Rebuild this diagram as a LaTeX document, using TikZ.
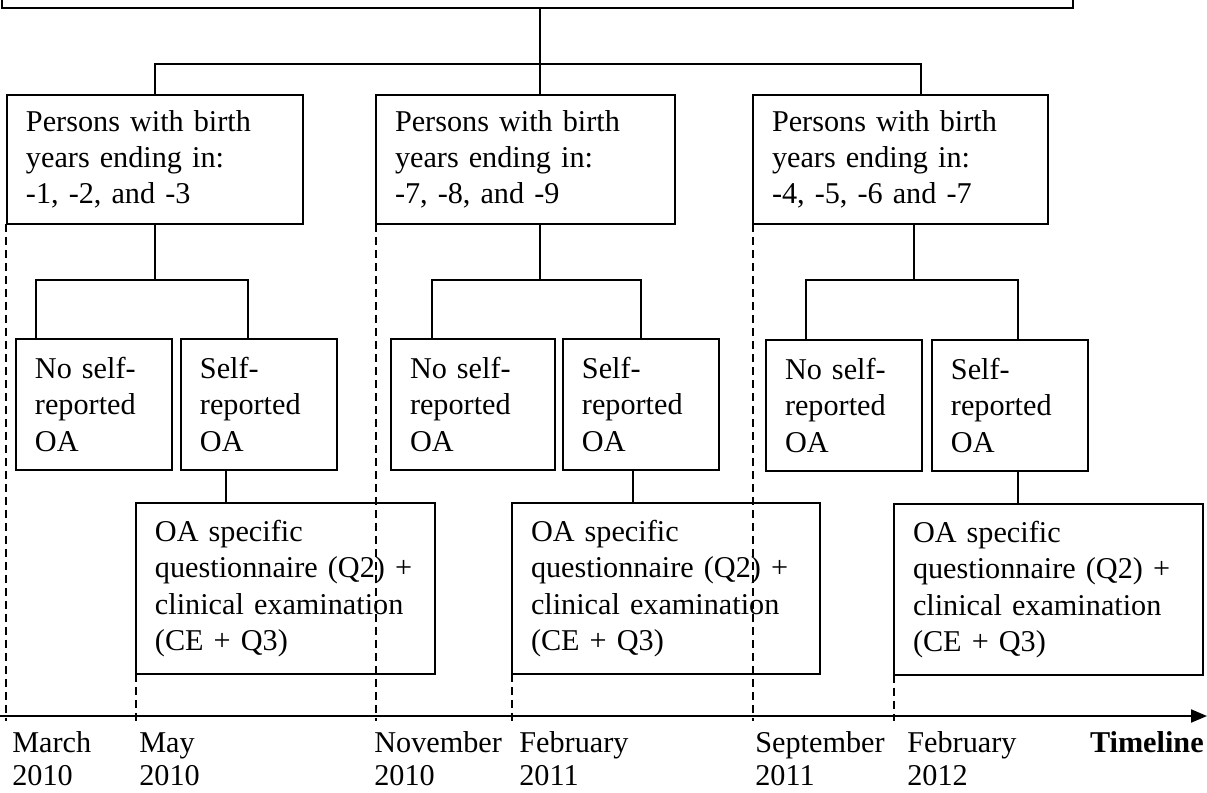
\documentclass[tikz,border=0pt]{standalone}
\usepackage{fontspec}
\setmainfont{Liberation Serif}
\usepackage{tikz}
\usetikzlibrary{arrows.meta, positioning}
\newcommand{\diagfont}{\fontsize{17.2}{20.6}\selectfont}
\newcommand{\datefont}{\fontsize{17.2}{19}\selectfont}

\begin{document}
\begin{tikzpicture}[
    x=0.02cm, y=-0.02cm, every node/.style={font=\diagfont},
    stage/.style={rectangle, draw, line width=1.2pt, inner xsep=0.38cm, inner ysep=0pt,
        outer sep=0pt, align=left, anchor=north west},
    cohort/.style={stage, minimum height=2.58cm},
    answer/.style={stage, minimum height=2.62cm, text width=2.36cm},
    exam/.style={stage, minimum height=3.42cm},
    link/.style={line width=1.2pt},
    guide/.style={line width=0.8pt, dash pattern=on 0.16cm off 0.1cm},
    date/.style={anchor=north west, inner sep=0pt, align=left, font=\datefont}]

    \clip (0,0) rectangle (1207,792);

    % Define boxes
    \node[stage, anchor=south west, minimum width=21.42cm, minimum height=2cm, inner sep=0pt] (top) at (2,8) {};

    \node[cohort, text width=5.16cm] (b1) at (7,95) {Persons with birth\\years ending in:\\-1, -2, and -3};
    \node[cohort, text width=5.22cm] (b2) at (376,95) {Persons with birth\\years ending in:\\-7, -8, and -9};
    \node[cohort, text width=5.14cm] (b3) at (753,95) {Persons with birth\\years ending in:\\-4, -5, -6 and -7};

    \node[answer] (n1) at (16,339) {No self-\\reported\\OA};
    \node[answer] (s1) [right=0.18cm of n1] {Self-\\reported\\OA};
    \node[answer, text width=2.52cm] (n2) at (391,339) {No self-\\reported\\OA};
    \node[answer] (s2) [right=0.16cm of n2] {Self-\\reported\\OA};
    \node[answer] (n3) at (766,340) {No self-\\reported\\OA};
    \node[answer] (s3) [right=0.2cm of n3] {Self-\\reported\\OA};

    \node[exam, text width=5.22cm] (q1) at (136,503) {OA specific\\questionnaire~(Q2)~+\\clinical examination\\(CE + Q3)};
    \node[exam, text width=5.40cm] (q2) at (512,503) {OA specific\\questionnaire~(Q2)~+\\clinical examination\\(CE + Q3)};
    \node[exam, text width=5.42cm] (q3) at (894,504) {OA specific\\questionnaire~(Q2)~+\\clinical examination\\(CE + Q3)};

    % Draw splits
    \coordinate (rail) at (540,64);
    \coordinate (fork) at (0,280);
    \draw[link] (top.south -| rail) -- (rail |- b2.north);
    \draw[link] (b1.north) |- (rail) -| ([xshift=0.41cm]b3.north);

    \draw[link] (b1.south) -- (b1.south |- fork);
    \draw[link] ([xshift=0.4cm]n1.north west) |- (b1.south |- fork) -| ([xshift=1.34cm]s1.north west);
    \draw[link] ([xshift=0.29cm]b2.south) -- ([xshift=0.29cm]b2.south |- fork);
    \draw[link] ([xshift=0.82cm]n2.north west) |- (b2.south |- fork) -| (s2.north);
    \draw[link] ([xshift=0.27cm]b3.south) -- ([xshift=0.27cm]b3.south |- fork);
    \draw[link] ([xshift=0.8cm]n3.north west) |- (b3.south |- fork) -| ([xshift=1.72cm]s3.north west);

    \draw[link] ([xshift=0.9cm]s1.south west) coordinate (k1) -- (k1 |- q1.north);
    \draw[link] ([xshift=1.4cm]s2.south west) coordinate (k2) -- (k2 |- q2.north);
    \draw[link] ([xshift=1.72cm]s3.south west) coordinate (k3) -- (k3 |- q3.north);

    % Timeline
    \coordinate (axis) at (0,716);
    \coordinate (tip) at (1207,716);
    \draw[link, -{Triangle[length=0.32cm, width=0.26cm]}] (axis) -- (tip);

    \draw[guide] ([xshift=-0.02cm]b1.south west) -- ([xshift=-0.02cm, yshift=-0.1cm]b1.south west |- axis);
    \draw[guide] (b2.south west) -- ([yshift=-0.1cm]b2.south west |- axis);
    \draw[guide] (b3.south west) -- ([yshift=-0.1cm]b3.south west |- axis);
    \draw[guide] (q1.south west) -- ([yshift=-0.1cm]q1.south west |- axis);
    \draw[guide] (q2.south west) -- ([yshift=-0.1cm]q2.south west |- axis);
    \draw[guide] (q3.south west) -- ([yshift=-0.1cm]q3.south west |- axis);

    \node[date] (mar) at (12,731) {March\\2010};
    \node[date] (may) at (139,732) {May\\2010};
    \node[date] (nov) at (374,731) {November\\2010};
    \node[date] (feb1) at (519,731) {February\\2011};
    \node[date] (sep) at (755,731) {September\\2011};
    \node[date] (feb2) at (907,731) {February\\2012};
    \node[date, anchor=north east] (line) at (1204,731) {\textbf{Timeline}};
\end{tikzpicture}
\end{document}
